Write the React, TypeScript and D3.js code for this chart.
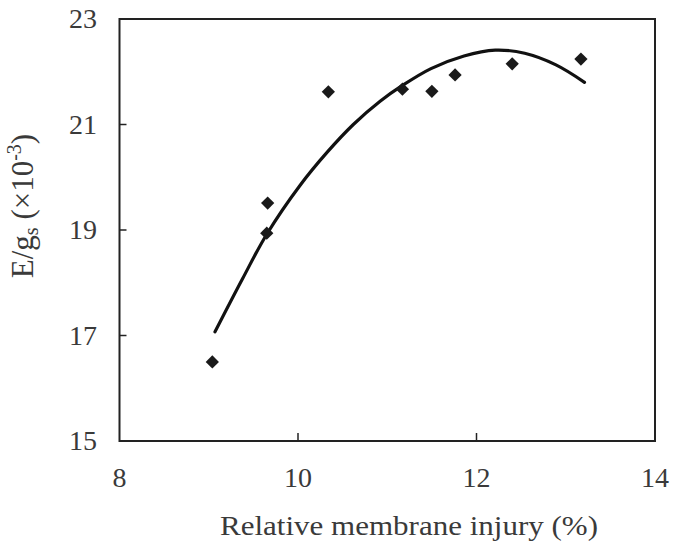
import React from 'react';
import * as d3 from 'd3';

// Axis ticks
const xTicks = [8, 10, 12, 14];
const yTicks = [15, 17, 19, 21, 23];

// Observed points: relative membrane injury (%) vs E/gs (x10^-3)
const injury = [9.04, 9.66, 9.65, 10.34, 11.17, 11.5, 11.76, 12.4, 13.17];
const ratio = [16.5, 19.51, 18.94, 21.62, 21.67, 21.63, 21.94, 22.15, 22.24];

// Fitted trend curve
const fitX = [9.07, 9.38, 9.65, 10.02, 10.33, 10.62, 10.92, 11.17, 11.49, 11.86, 12.21, 12.54, 12.89, 13.21];
const fitY = [17.07, 18.08, 18.92, 19.84, 20.48, 21.0, 21.44, 21.74, 22.06, 22.3, 22.41, 22.35, 22.13, 21.8];

const FONT = '"Liberation Serif", "Times New Roman", Times, serif';

export default function App() {
  const W = 677;
  const H = 550;
  const left = 119.5, right = 655, top = 19, bottom = 441;
  const x = d3.scaleLinear().domain([8, 14]).range([left, right]);
  const y = d3.scaleLinear().domain([15, 23]).range([bottom, top]);

  const line = d3
    .line<number>()
    .x((_, i) => x(fitX[i]))
    .y((d) => y(d))
    .curve(d3.curveCatmullRom.alpha(0.5));
  const curvePath = line(fitY) || '';
  const diamond = d3.symbol().type(d3.symbolSquare).size(88)() || '';

  const axisColor = '#222';
  const textColor = '#3a3a3a';
  const ts = { fontFamily: FONT };

  return (
    <svg
      width={W}
      height={H}
      style={{ position: 'absolute', left: 0, top: 0, background: '#fff', fontFamily: FONT }}
    >
      <rect x={0} y={0} width={W} height={H} fill="#fff" />
      {/* frame */}
      <rect
        x={left}
        y={top}
        width={right - left}
        height={bottom - top}
        fill="none"
        stroke={axisColor}
        strokeWidth={2}
      />
      {/* inner ticks */}
      {xTicks.slice(1, -1).map((t) => (
        <line key={'xt' + t} x1={x(t)} x2={x(t)} y1={bottom} y2={bottom - 8} stroke={axisColor} strokeWidth={1.5} />
      ))}
      {yTicks.slice(1, -1).map((t) => (
        <line key={'yt' + t} x1={left} x2={left + 7} y1={y(t)} y2={y(t)} stroke={axisColor} strokeWidth={1.5} />
      ))}
      {/* tick labels */}
      {xTicks.map((t) => (
        <text key={'xl' + t} x={x(t)} y={487} textAnchor="middle" fontSize={28} fill={textColor} style={ts}>
          {t}
        </text>
      ))}
      {yTicks.map((t) => (
        <text key={'yl' + t} x={97} y={y(t) + 9} textAnchor="end" fontSize={28} fill={textColor} style={ts}>
          {t}
        </text>
      ))}
      {/* axis titles */}
      <text
        x={409}
        y={535}
        textAnchor="middle"
        fontSize={28}
        fill={textColor}
        textLength={378}
        lengthAdjust="spacingAndGlyphs"
        style={ts}
      >
        Relative membrane injury (%)
      </text>
      <text
        transform="translate(33,206) rotate(-90)"
        textAnchor="middle"
        fontSize={31}
        fill={textColor}
        style={ts}
      >
        E/g
        <tspan fontSize={20} dy={5}>s</tspan>
        <tspan dy={-5}> (×10</tspan>
        <tspan fontSize={20} dy={-12}>-3</tspan>
        <tspan dy={12}>)</tspan>
      </text>
      {/* fitted curve */}
      <path d={curvePath} fill="none" stroke="#111" strokeWidth={3.2} strokeLinecap="round" />
      {/* points */}
      {injury.map((v, i) => (
        <path
          key={'p' + i}
          d={diamond}
          transform={`translate(${x(v)},${y(ratio[i])}) rotate(45)`}
          fill="#1a1a1a"
        />
      ))}
    </svg>
  );
}
